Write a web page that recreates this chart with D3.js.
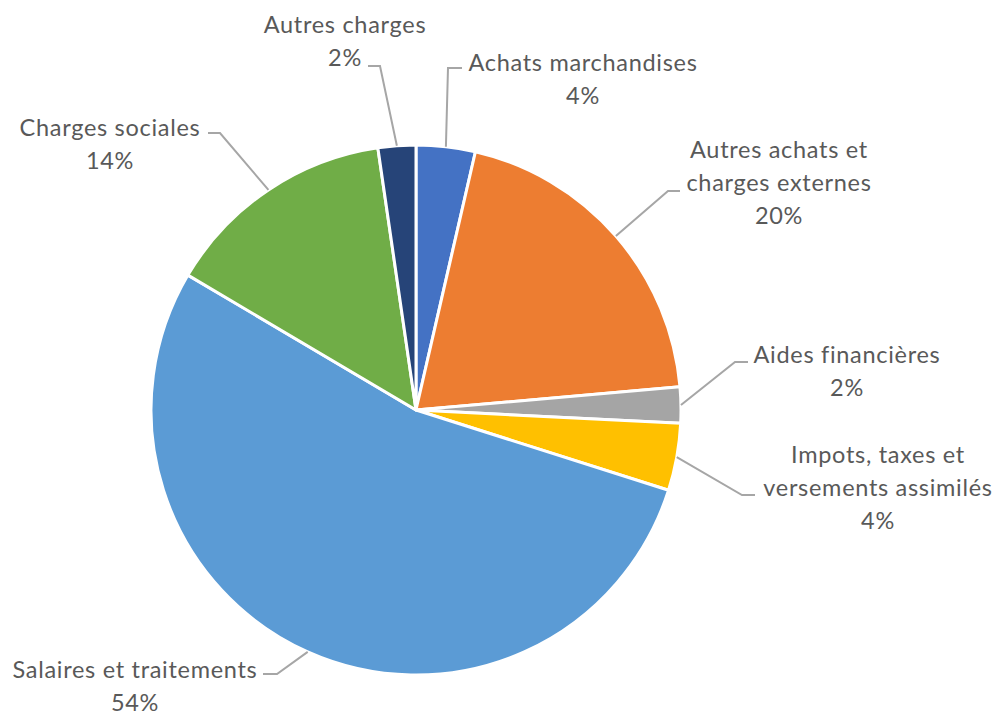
<!DOCTYPE html>
<html>
<head>
<meta charset="utf-8">
<script src="https://cdn.jsdelivr.net/npm/d3@7"></script>
<style>
  body { margin: 0; background: #fff; }
  text { font-family: Lato, "Liberation Sans", sans-serif; fill: #595959; }
</style>
</head>
<body>
<script>
const categories = [
    "Achats marchandises",
    "Autres achats et charges externes",
    "Aides financières",
    "Impots, taxes et versements assimilés",
    "Salaires et traitements",
    "Charges sociales",
    "Autres charges",
];
const values = [3.6, 20.0, 2.2, 4.1, 53.6, 14.2, 2.3];
const labelLines = [
    ["Achats marchandises"],
    ["Autres achats et", "charges externes"],
    ["Aides financières"],
    ["Impots, taxes et", "versements assimilés"],
    ["Salaires et traitements"],
    ["Charges sociales"],
    ["Autres charges"],
];
const colors = ["#4472C4", "#ED7D31", "#A5A5A5", "#FFC000", "#5B9BD5", "#70AD47", "#264478"];

// label placement: text centre x, first baseline y, leader end point and elbow offset
const labelLayout = [
    { x: 583, y: 71, end: [462, 68], elbow: -14 },
    { x: 779, y: 158, end: [680, 191], elbow: -12 },
    { x: 847, y: 363, end: [748, 362], elbow: -13 },
    { x: 878, y: 463, end: [755, 495], elbow: -13 },
    { x: 135, y: 678, end: [263, 674], elbow: 14 },
    { x: 110, y: 136, end: [208, 133], elbow: 12 },
    { x: 345, y: 33, end: [368, 66], elbow: 12 },
];

const w = 999;
const h = 715;
const cx = 416;
const cy = 410;
const r = 265;
const lineH = 33;

const svg = d3.select("body")
    .append("svg")
    .attr("width", w)
    .attr("height", h);

const pie = d3.pie().sort(null).value((d) => d.value);
const arcs = pie(values.map((v, i) => ({ value: v, i: i })));

const arc = d3.arc().innerRadius(0).outerRadius(r);
const edge = d3.arc().innerRadius(r).outerRadius(r);

const g = svg.append("g").attr("transform", `translate(${cx},${cy})`);

g.selectAll("path.slice")
    .data(arcs)
    .enter()
    .append("path")
    .attr("class", "slice")
    .attr("d", arc)
    .attr("fill", (d) => colors[d.data.i])
    .attr("stroke", "#fff")
    .attr("stroke-width", 3)
    .attr("stroke-linejoin", "round");

// leader lines
svg.selectAll("polyline.leader")
    .data(arcs)
    .enter()
    .append("polyline")
    .attr("class", "leader")
    .attr("fill", "none")
    .attr("stroke", "#A6A6A6")
    .attr("stroke-width", 2)
    .attr("points", (d) => {
        const L = labelLayout[d.data.i];
        const p = edge.centroid(d);
        const start = [cx + p[0], cy + p[1]];
        const elbow = [L.end[0] + L.elbow, L.end[1]];
        return [start, elbow, L.end].map((q) => q.join(",")).join(" ");
    });

// labels
const labels = svg.selectAll("text.label")
    .data(arcs)
    .enter()
    .append("text")
    .attr("class", "label")
    .attr("text-anchor", "middle")
    .style("font-size", "23.5px")
    .style("letter-spacing", "0.7px");

labels.each(function (d) {
    const L = labelLayout[d.data.i];
    const lines = labelLines[d.data.i].concat([Math.round(d.data.value) + "%"]);
    d3.select(this)
        .selectAll("tspan")
        .data(lines)
        .enter()
        .append("tspan")
        .attr("x", L.x)
        .attr("y", (t, j) => L.y + j * lineH)
        .text((t) => t);
});
</script>
</body>
</html>
